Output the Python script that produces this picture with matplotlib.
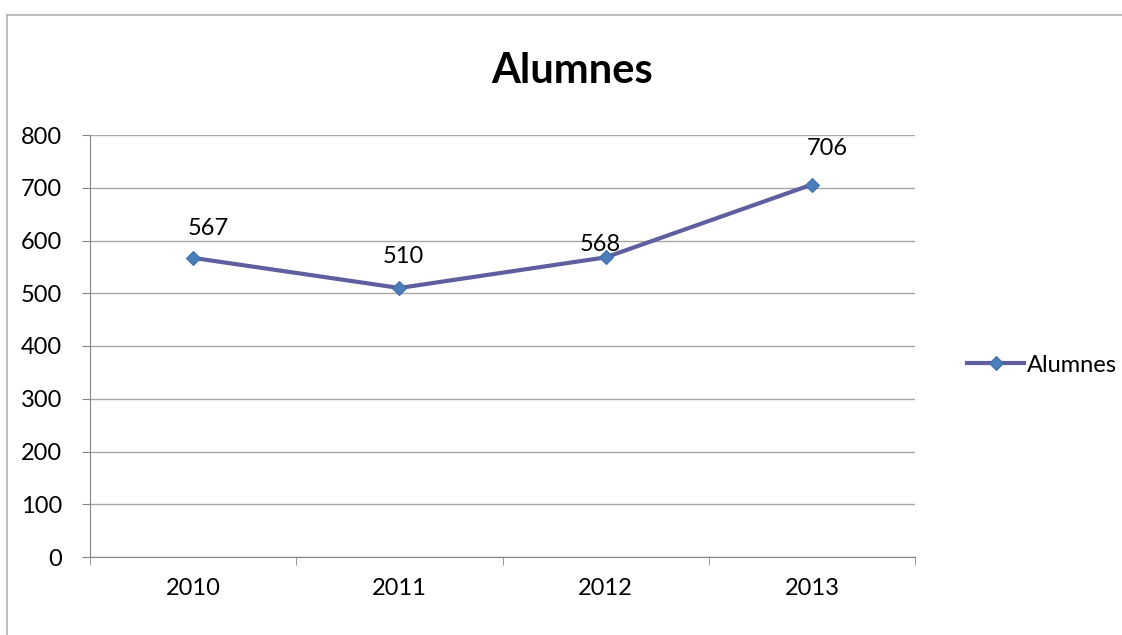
import matplotlib.pyplot as plt
from matplotlib.lines import Line2D
import numpy as np

plt.rcParams['font.family'] = ['Lato', 'DejaVu Sans']

years = ['2010', '2011', '2012', '2013']
alumnes = [567, 510, 568, 706]
# label offsets in points (dx, dy), as placed in the original
label_offsets = [(11, 21), (3, 23), (-4, 9), (11, 26)]

LINE = '#5F5FA0'
MARK = '#4A7EBB'
GRID = '#A6A6A6'
AXIS = '#868686'
FS = 17

fig = plt.figure(figsize=(11.22, 6.35), dpi=100)
ax = fig.add_axes([90 / 1122, 1 - 557 / 635, 825 / 1122, 422 / 635])

x = np.arange(len(years))
ax.plot(x, alumnes, color=LINE, lw=3, marker='D', ms=7,
        mfc=MARK, mec='#3F6FAA', mew=0.8, label='Alumnes', zorder=3)

for xi, v, (dx, dy) in zip(x, alumnes, label_offsets):
    ax.annotate(str(v), (xi, v), xytext=(dx, dy), textcoords='offset points',
                ha='center', va='center', fontsize=FS)

ax.set_xlim(-0.5, len(years) - 0.5)
ax.set_ylim(0, 800)
ax.set_yticks(range(0, 801, 100))
ax.yaxis.grid(True, color=GRID, lw=1)
ax.set_axisbelow(True)

ax.set_xticks(x)
ax.set_xticklabels(years)
ax.set_xticks(np.arange(-0.5, len(years), 1), minor=True)
ax.tick_params(axis='x', which='major', length=0, pad=15, labelsize=FS)
ax.tick_params(axis='x', which='minor', length=6, color=AXIS, direction='out')
ax.tick_params(axis='y', length=6, color=AXIS, pad=14, labelsize=FS)

for s in ['top', 'right']:
    ax.spines[s].set_visible(False)
for s in ['left', 'bottom']:
    ax.spines[s].set_color(AXIS)

fig.suptitle('Alumnes', x=572 / 1122, y=1 - 71 / 635, va='center',
             fontsize=30, fontweight='bold')

ax.legend(loc='center left', bbox_to_anchor=((958 - 90) / 825, 0.5 - (365 - 346) / 422),
          frameon=False, fontsize=FS, handlelength=2.4, borderaxespad=0,
          handletextpad=0.1)

# chart area border (left and top edges visible)
fig.add_artist(Line2D([7 / 1122, 7 / 1122], [0, 1 - 15 / 635],
                      transform=fig.transFigure, color='#B3B3B3', lw=1.2))
fig.add_artist(Line2D([7 / 1122, 1], [1 - 15 / 635, 1 - 15 / 635],
                      transform=fig.transFigure, color='#B3B3B3', lw=1.2))

fig.savefig('out.png', dpi=100)
